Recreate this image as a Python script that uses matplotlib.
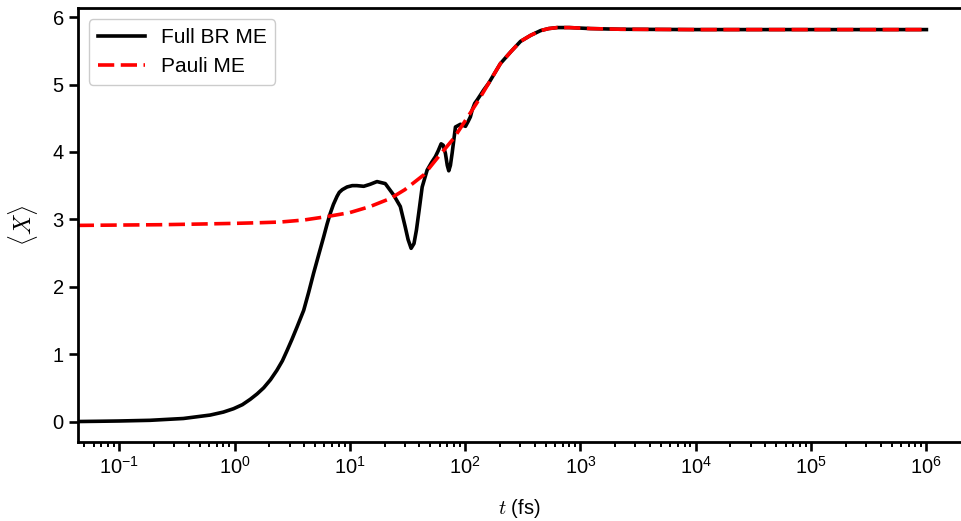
import matplotlib
matplotlib.use("Agg")
import matplotlib.pyplot as plt
import numpy as np

plt.rcParams['font.family'] = ['Liberation Sans', 'DejaVu Sans']
plt.rcParams['mathtext.fontset'] = 'cm'
plt.rcParams['font.size'] = 14

# Full Bloch-Redfield master equation
t_full = [0.0437, 0.068, 0.1, 0.185, 0.36, 0.615, 0.8, 0.98, 1.17, 1.37, 1.57,
          1.79, 2.05, 2.33, 2.6, 2.85, 3.15, 3.48, 3.98, 4.4, 4.85, 5.4, 5.93,
          6.35, 6.77, 7.2, 7.74, 8.1, 8.6, 9.46, 10.5, 11.5, 13.2, 15, 17.2,
          20.3, 24, 27.4, 30.2, 32, 34, 36, 37.8, 40, 42.4, 46.8, 51, 55.2,
          58.5, 61.9, 64.5, 67.4, 70, 72.1, 74.5, 77.1, 82.4, 91, 100.7, 106,
          111, 115, 121, 127, 145, 160, 202, 250, 302, 370, 451, 530, 630, 800,
          1225, 2229, 1e4, 1e5, 1e6]
x_full = [0.0, 0.004, 0.008, 0.018, 0.045, 0.096, 0.14, 0.19, 0.25, 0.33,
          0.41, 0.50, 0.62, 0.76, 0.90, 1.05, 1.22, 1.40, 1.65, 1.92, 2.20,
          2.49, 2.74, 2.93, 3.09, 3.22, 3.34, 3.40, 3.44, 3.48, 3.50, 3.50,
          3.49, 3.52, 3.56, 3.53, 3.36, 3.19, 2.89, 2.70, 2.57, 2.64, 2.84,
          3.15, 3.48, 3.73, 3.84, 3.93, 4.02, 4.12, 4.10, 3.98, 3.80, 3.72,
          3.80, 3.98, 4.37, 4.41, 4.38, 4.45, 4.52, 4.62, 4.72, 4.77, 4.92,
          5.02, 5.31, 5.49, 5.64, 5.73, 5.80, 5.83, 5.845, 5.845, 5.83, 5.82,
          5.815, 5.815, 5.815]

# Pauli master equation
t_pauli = [0.0437, 0.1, 0.226, 0.5, 1, 1.67, 2.5, 4, 6.3, 10, 15, 22.5, 30,
           43.8, 60, 79.5, 100, 131, 160, 202, 250, 302, 370, 451, 530, 630,
           800, 1225, 2229, 1e4, 1e5, 1e6]
x_pauli = [2.91, 2.915, 2.92, 2.93, 2.94, 2.95, 2.96, 2.99, 3.04, 3.10, 3.19,
           3.31, 3.44, 3.66, 3.95, 4.2, 4.46, 4.77, 5.02, 5.31, 5.49, 5.64,
           5.73, 5.80, 5.83, 5.845, 5.845, 5.83, 5.82, 5.815, 5.815, 5.815]

xtick_pos = [1e-1, 1e0, 1e1, 1e2, 1e3, 1e4, 1e5, 1e6]

fig = plt.figure(figsize=(9.61, 5.21), dpi=100)
ax = fig.add_axes([0.0809, 0.1516, 0.9191, 0.833])

ax.plot(t_full, x_full, color='black', lw=2.6, label='Full BR ME')
ax.plot(t_pauli, x_pauli, color='red', lw=2.6, dashes=(4.5, 1.8), label='Pauli ME')

ax.set_xscale('log')
ax.set_xticks(xtick_pos)
ax.set_xlim(0.0437, 10 ** 6.30)
ax.set_ylim(-0.304, 6.135)
ax.set_yticks(range(7))
ax.xaxis.set_minor_formatter(plt.NullFormatter())

ax.set_xlabel(r'$t$ (fs)', fontsize=14.5, labelpad=14)
ax.set_ylabel(r'$\langle X \rangle$', fontsize=17, labelpad=9)

for s in ['left', 'bottom', 'top']:
    ax.spines[s].set_linewidth(2.0)
ax.spines['right'].set_visible(False)
ax.tick_params(which='major', length=6.5, width=1.9, labelsize=14.5)
ax.tick_params(which='minor', length=3.5, width=1.4)

ax.legend(loc='upper left', fontsize=15, handlelength=2.3, handletextpad=0.75,
          borderaxespad=0.55, framealpha=1, edgecolor='#cccccc', fancybox=True)

fig.savefig('out.png', dpi=100)
